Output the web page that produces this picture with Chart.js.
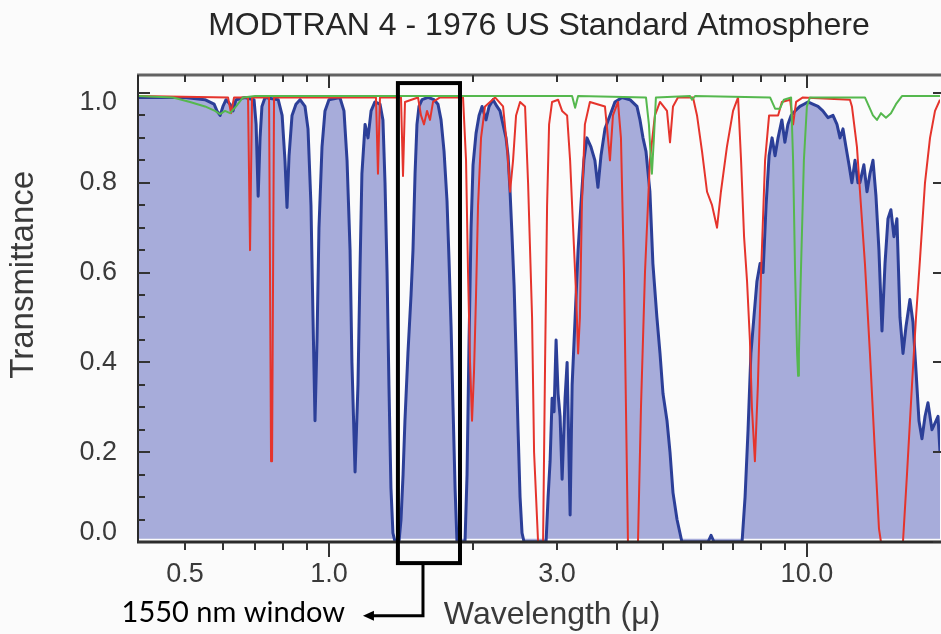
<!DOCTYPE html>
<html>
<head>
<meta charset="utf-8">
<script src="https://cdn.jsdelivr.net/npm/chart.js@4.4.1/dist/chart.umd.min.js"></script>
<style>
  html, body { margin: 0; padding: 0; background: #fbfbfb; }
  #wrap { width: 941px; height: 634px; position: relative; }
</style>
</head>
<body>
<div id="wrap"><canvas id="c"></canvas></div>
<script>
// ---------- DATA (wavelength in micrometres, transmittance 0..1) ----------
const blueWavelength = [
  0.3985, 0.500, 0.550, 0.575, 0.583, 0.592, 0.600, 0.609, 0.621, 0.630,
  0.639, 0.667, 0.697, 0.704, 0.711, 0.7175, 0.724, 0.735, 0.783, 0.798,
  0.809, 0.817, 0.825, 0.837, 0.853, 0.870, 0.891, 0.904, 0.917, 0.926,
  0.935, 0.944, 0.953, 0.967, 0.981, 1.000, 1.054, 1.075, 1.091, 1.107,
  1.117, 1.134, 1.150, 1.161, 1.172, 1.190, 1.207, 1.225, 1.248, 1.279,
  1.297, 1.310, 1.323, 1.335, 1.348, 1.361, 1.375, 1.401, 1.415, 1.429,
  1.442, 1.463, 1.485, 1.499, 1.514, 1.528, 1.543, 1.566, 1.612, 1.659,
  1.691, 1.716, 1.741, 1.766, 1.783, 1.801, 1.818, 1.836, 1.853, 1.926,
  1.945, 1.964, 1.983, 2.002, 2.031, 2.061, 2.091, 2.131, 2.163, 2.205,
  2.247, 2.280, 2.313, 2.347, 2.370, 2.393, 2.416, 2.440, 2.463, 2.487,
  2.511, 2.535, 2.560, 2.846, 2.874, 2.902, 2.930, 2.958, 2.987, 3.016,
  3.045, 3.075, 3.119, 3.150, 3.196, 3.227, 3.274, 3.321, 3.366, 3.415,
  3.465, 3.533, 3.601, 3.654, 3.708, 3.780, 3.872, 3.966, 4.103, 4.264,
  4.410, 4.475, 4.540, 4.606, 4.694, 4.762, 4.855, 4.928, 5.000, 5.097,
  5.171, 5.246, 5.349, 5.477, 6.211, 6.302, 6.393, 7.317, 7.424, 7.532,
  7.636, 7.747, 7.860, 7.981, 8.097, 8.215, 8.335, 8.456, 8.579, 8.704,
  8.865, 8.994, 9.125, 9.268, 9.448, 9.669, 9.857, 10.05, 10.29, 10.55,
  10.80, 11.07, 11.34, 11.56, 11.73, 11.90, 12.07, 12.25, 12.42, 12.61,
  12.79, 12.91, 13.16, 13.36, 13.55, 13.75, 13.95, 14.15, 14.36, 14.57,
  14.78, 14.99, 15.21, 15.43, 15.66, 15.89, 16.12, 16.43, 16.67, 16.92,
  17.16, 17.41, 17.67, 17.92, 18.27, 18.45, 18.81, 18.99
];
const blueTransmittance = [
  0.99, 0.99, 0.985, 0.975, 0.96, 0.95, 0.97, 0.985, 0.975, 0.96,
  0.985, 0.99, 0.985, 0.93, 0.77, 0.90, 0.97, 0.99, 0.985, 0.95,
  0.85, 0.745, 0.86, 0.95, 0.975, 0.985, 0.97, 0.92, 0.75, 0.50,
  0.27, 0.45, 0.70, 0.88, 0.96, 0.985, 0.99, 0.96, 0.85, 0.65,
  0.40, 0.156, 0.35, 0.60, 0.82, 0.93, 0.90, 0.96, 0.98, 0.975,
  0.94, 0.80, 0.60, 0.35, 0.12, 0.02, 0.0, 0.0, 0.05, 0.15,
  0.27, 0.42, 0.55, 0.65, 0.82, 0.93, 0.97, 0.985, 0.99, 0.985,
  0.975, 0.94, 0.87, 0.76, 0.63, 0.48, 0.30, 0.12, 0.0, 0.0,
  0.15, 0.45, 0.70, 0.84, 0.91, 0.95, 0.97, 0.94, 0.97, 0.985,
  0.97, 0.96, 0.93, 0.90, 0.86, 0.78, 0.68, 0.57, 0.42, 0.25,
  0.10, 0.02, 0.0, 0.0, 0.10, 0.18, 0.32, 0.29, 0.45, 0.33,
  0.28, 0.14, 0.32, 0.40, 0.06, 0.35, 0.50, 0.65, 0.75, 0.85,
  0.90, 0.88, 0.85, 0.79, 0.86, 0.92, 0.95, 0.98, 0.99, 0.985,
  0.97, 0.94, 0.90, 0.87, 0.78, 0.62, 0.50, 0.42, 0.33, 0.27,
  0.20, 0.11, 0.05, 0.0, 0.0, 0.015, 0.0, 0.0, 0.10, 0.25,
  0.42, 0.50, 0.58, 0.62, 0.60, 0.75, 0.86, 0.90, 0.86, 0.90,
  0.94, 0.89, 0.93, 0.95, 0.96, 0.97, 0.975, 0.98, 0.975, 0.97,
  0.96, 0.945, 0.95, 0.93, 0.90, 0.92, 0.88, 0.84, 0.80, 0.85,
  0.80, 0.80, 0.84, 0.78, 0.82, 0.85, 0.77, 0.65, 0.47, 0.62,
  0.72, 0.74, 0.68, 0.72, 0.50, 0.42, 0.48, 0.54, 0.49, 0.38,
  0.27, 0.23, 0.28, 0.31, 0.25, 0.26, 0.28, 0.20
];

const redWavelength = [
  0.3985, 0.6149, 0.6239, 0.633, 0.6771, 0.6837, 0.6903, 0.7493, 0.7565, 0.7602,
  0.7675, 1.2542, 1.2663, 1.2786, 1.4149, 1.4286, 1.4424, 1.5357, 1.5581, 1.5808,
  1.6038, 1.6272, 1.6509, 1.7075, 1.9078, 1.9356, 1.9543, 1.9732, 1.9923, 2.0116,
  2.0311, 2.0508, 2.0806, 2.1211, 2.2259, 2.3134, 2.3584, 2.3929, 2.4277, 2.4631,
  2.5110, 2.5722, 2.6098, 2.6606, 2.6864, 2.7387, 2.8056, 2.8327, 2.8602, 2.8879,
  2.9299, 3.0158, 3.0747, 3.1497, 3.1957, 3.2422, 3.2894, 3.3213, 3.350, 3.3824,
  3.4317, 3.5155, 3.7797, 3.8349, 3.8720, 3.9284, 4.0243, 4.0828, 4.1423, 4.1824,
  4.2231, 4.4318, 4.4963, 4.5838, 4.694, 4.8084, 4.9277, 5.0967, 5.1711, 5.2464,
  5.3720, 5.7775, 5.8899, 6.0338, 6.181, 6.3319, 6.4863, 6.6088, 6.8026, 7.0066,
  7.1777, 7.2822, 7.3882, 7.4958, 7.599, 7.6726, 7.7843, 7.8976, 8.0194, 8.1755,
  8.3349, 8.4971, 8.7043, 8.865, 9.2233, 9.3576, 9.4938, 9.8094, 12.305, 12.424,
  12.727, 12.974, 13.227, 13.550, 13.880, 14.152, 14.289, 15.887, 16.196, 16.593,
  16.916, 17.245, 17.665, 18.098, 18.539, 18.992
];
const redTransmittance = [
  0.993, 0.99, 0.955, 0.99, 0.99, 0.65, 0.99, 0.99, 0.18, 0.18,
  0.99, 0.99, 0.82, 0.99, 0.99, 0.815, 0.98, 0.99, 0.95, 0.93,
  0.96, 0.94, 0.98, 0.99, 0.99, 0.85, 0.60, 0.40, 0.27, 0.38,
  0.55, 0.75, 0.90, 0.97, 0.99, 0.97, 0.88, 0.78, 0.85, 0.95,
  0.98, 0.97, 0.80, 0.50, 0.20, 0.0, 0.0, 0.40, 0.75, 0.93,
  0.98, 0.985, 0.96, 0.95, 0.85, 0.70, 0.55, 0.42, 0.50, 0.75,
  0.93, 0.98, 0.97, 0.90, 0.85, 0.95, 0.98, 0.90, 0.60, 0.30,
  0.0, 0.0, 0.30, 0.60, 0.85, 0.95, 0.98, 0.96, 0.89, 0.97,
  0.99, 0.99, 0.95, 0.87, 0.78, 0.75, 0.70, 0.78, 0.88, 0.96,
  0.99, 0.85, 0.68, 0.58, 0.45, 0.30, 0.18, 0.35, 0.60, 0.85,
  0.95, 0.95, 0.95, 0.98, 0.985, 0.93, 0.98, 0.99, 0.985, 0.97,
  0.88, 0.75, 0.62, 0.42, 0.20, 0.03, 0.0, 0.0, 0.15, 0.35,
  0.50, 0.63, 0.80, 0.90, 0.96, 0.985
];

const greenWavelength = [
  0.3985, 0.4718, 0.5120, 0.5503, 0.5775, 0.5916, 0.6060, 0.6209, 0.6391, 0.661,
  0.7004, 3.2266, 3.2736, 3.3213, 4.6059, 4.6714, 4.7167, 4.7394, 4.7853, 4.8317,
  5.6946, 5.7497, 5.8334, 8.3752, 8.5794, 8.780, 8.951, 9.2679, 9.3576, 9.448,
  9.5397, 9.5858, 9.6221, 9.7153, 9.8567, 10.0, 10.146, 13.227, 13.485, 13.747,
  14.015, 14.289, 14.637, 14.994, 15.360, 15.81, 18.992
];
const greenTransmittance = [
  0.993, 0.99, 0.98, 0.97, 0.96, 0.953, 0.96, 0.955, 0.97, 0.99,
  0.993, 0.993, 0.967, 0.993, 0.99, 0.93, 0.85, 0.82, 0.90, 0.99,
  0.993, 0.985, 0.993, 0.99, 0.965, 0.965, 0.985, 0.99, 0.85, 0.60,
  0.42, 0.37, 0.42, 0.60, 0.85, 0.97, 0.99, 0.99, 0.97, 0.95,
  0.94, 0.955, 0.945, 0.955, 0.975, 0.993, 0.993
];

const xTickValues = [0.5, 1, 3, 10];
const xTickLabels = ['0.5', '1.0', '3.0', '10.0'];
// edge labels sit slightly inside the axis range, as in the original plot
const yLabelValues = [0.02, 0.2, 0.4, 0.6, 0.8, 0.978];
const yTickLabels = ['0.0', '0.2', '0.4', '0.6', '0.8', '1.0'];
const xMinorTickValues = [0.5, 0.6, 0.7, 0.8, 0.9, 2, 3, 4, 5, 6, 7, 8, 9];
const xMajorTickValues = [1, 10];

// annotation (in data units)
const windowBox = { xMin: 1.394, xMax: 1.880, yMin: -0.047, yMax: 1.022 };
const windowArrow = { stemX: 1.573, elbowY: -0.164, tipX: 1.178, textX: 1.080 };
const windowLabel = '1550 nm window';

const FONT = '"Liberation Sans", Arial, Helvetica, sans-serif';

// ---------- BUILD ----------
const pts = (xs, ys) => xs.map((v, i) => ({ x: v, y: ys[i] }));

const deco = {
  id: 'deco',
  beforeDraw(chart) {
    const { ctx, width, height } = chart;
    ctx.save();
    ctx.fillStyle = '#fbfbfb';
    ctx.fillRect(0, 0, width, height);
    ctx.restore();
  },
  afterDraw(chart) {
    const { ctx, chartArea: a, scales: { x, y } } = chart;
    ctx.save();
    // frame
    ctx.lineCap = 'butt';
    ctx.strokeStyle = '#626262';
    ctx.lineWidth = 3;
    ctx.beginPath(); ctx.moveTo(a.left - 1, a.top); ctx.lineTo(a.right + 2, a.top); ctx.stroke();
    ctx.strokeStyle = '#2a2a2a';
    ctx.lineWidth = 2;
    ctx.beginPath(); ctx.moveTo(a.left, a.top); ctx.lineTo(a.left, a.bottom); ctx.stroke();
    ctx.lineWidth = 3;
    ctx.beginPath(); ctx.moveTo(a.left - 1, a.bottom); ctx.lineTo(a.right + 2, a.bottom); ctx.stroke();

    // x ticks (bottom outward, top inward)
    ctx.strokeStyle = '#333';
    ctx.lineWidth = 2;
    const drawX = (v, major) => {
      const px = Math.round(x.getPixelForValue(v));
      ctx.beginPath();
      ctx.moveTo(px, a.bottom); ctx.lineTo(px, a.bottom + (major ? 15 : 8));
      ctx.moveTo(px, a.top); ctx.lineTo(px, a.top + (major ? 13 : 7));
      ctx.stroke();
    };
    xMinorTickValues.forEach(v => drawX(v, false));
    xMajorTickValues.forEach(v => drawX(v, true));

    // y ticks (left inward, right inward)
    for (let k = 0; k <= 20; k++) {
      const v = k * 0.05;
      const py = Math.round(y.getPixelForValue(v));
      const major = k % 4 === 0;
      ctx.beginPath();
      ctx.moveTo(a.left, py); ctx.lineTo(a.left + (major ? 12 : 7), py);
      if (major) { ctx.moveTo(a.right + 1, py); ctx.lineTo(a.right - 7, py); }
      ctx.stroke();
    }

    // axis titles
    ctx.fillStyle = '#3a3a3a';
    ctx.textAlign = 'center';
    ctx.textBaseline = 'middle';
    ctx.save();
    ctx.font = '33px ' + FONT;
    ctx.translate(24, y.getPixelForValue(0.595));
    ctx.rotate(-Math.PI / 2);
    ctx.fillText('Transmittance', 0, 0);
    ctx.restore();
    ctx.font = '32px ' + FONT;
    ctx.fillText('Wavelength (μ)', x.getPixelForValue(2.93), y.getPixelForValue(-0.162));

    // 1550 nm window annotation
    const bx0 = x.getPixelForValue(windowBox.xMin), bx1 = x.getPixelForValue(windowBox.xMax);
    const by0 = y.getPixelForValue(windowBox.yMax), by1 = y.getPixelForValue(windowBox.yMin);
    ctx.strokeStyle = '#000';
    ctx.lineWidth = 4;
    ctx.lineJoin = 'miter';
    ctx.strokeRect(bx0, by0, bx1 - bx0, by1 - by0);
    const sx = x.getPixelForValue(windowArrow.stemX);
    const ey = y.getPixelForValue(windowArrow.elbowY);
    const tx = x.getPixelForValue(windowArrow.tipX);
    ctx.lineWidth = 3;
    ctx.beginPath();
    ctx.moveTo(sx, by1); ctx.lineTo(sx, ey); ctx.lineTo(tx + 8, ey);
    ctx.stroke();
    ctx.fillStyle = '#000';
    ctx.beginPath();
    ctx.moveTo(tx, ey); ctx.lineTo(tx + 11, ey - 5); ctx.lineTo(tx + 11, ey + 5); ctx.closePath();
    ctx.fill();
    ctx.font = '29px Lato, "Open Sans", sans-serif';
    ctx.textAlign = 'right';
    ctx.textBaseline = 'middle';
    ctx.fillText(windowLabel, x.getPixelForValue(windowArrow.textX), ey - 3);
    ctx.restore();
  }
};

new Chart(document.getElementById('c'), {
  type: 'line',
  data: {
    datasets: [
      {
        label: 'O3',
        data: pts(greenWavelength, greenTransmittance),
        borderColor: '#55b84e',
        borderWidth: 2,
        pointRadius: 0,
        fill: false,
        order: 0
      },
      {
        label: 'Uniformly mixed gases',
        data: pts(redWavelength, redTransmittance),
        borderColor: '#e5342c',
        borderWidth: 2,
        pointRadius: 0,
        fill: false,
        order: 1
      },
      {
        label: 'H2O',
        data: pts(blueWavelength, blueTransmittance),
        borderColor: '#2c3f98',
        backgroundColor: '#a7acda',
        borderWidth: 3,
        pointRadius: 0,
        fill: { value: 0.007 },
        order: 2
      }
    ]
  },
  options: {
    responsive: true,
    maintainAspectRatio: false,
    animation: false,
    events: [],
    layout: { padding: { left: 0, right: 1, top: 0, bottom: 0 } },
    elements: { line: { tension: 0, borderJoinStyle: 'round' } },
    plugins: {
      legend: { display: false },
      tooltip: { enabled: false },
      title: {
        display: true,
        fullSize: false,
        text: 'MODTRAN 4 - 1976 US Standard Atmosphere',
        color: '#262626',
        font: { family: FONT, size: 32, weight: 'normal', lineHeight: 1.2 },
        padding: { top: 7, bottom: 29.6 }
      }
    },
    scales: {
      x: {
        type: 'logarithmic',
        min: 0.3985,
        max: 18.99,
        grid: { display: false, drawTicks: false },
        border: { display: false },
        afterBuildTicks: (s) => { s.ticks = xTickValues.map(v => ({ value: v })); },
        afterFit: (s) => { s.height = 92; },
        ticks: {
          autoSkip: false,
          maxRotation: 0,
          padding: 16,
          color: '#3a3a3a',
          font: { family: FONT, size: 27 },
          callback: (v) => xTickLabels[xTickValues.indexOf(v)]
        },
        title: { display: false }
      },
      y: {
        type: 'linear',
        min: 0,
        max: 1.04,
        grid: { display: false, drawTicks: false },
        border: { display: false },
        afterBuildTicks: (s) => { s.ticks = yLabelValues.map(v => ({ value: v })); },
        afterFit: (s) => { s.width = 138; },
        ticks: {
          padding: 21,
          color: '#3a3a3a',
          font: { family: FONT, size: 27 },
          callback: (v, i) => yTickLabels[i]
        }
      }
    }
  },
  plugins: [deco]
});
</script>
</body>
</html>
